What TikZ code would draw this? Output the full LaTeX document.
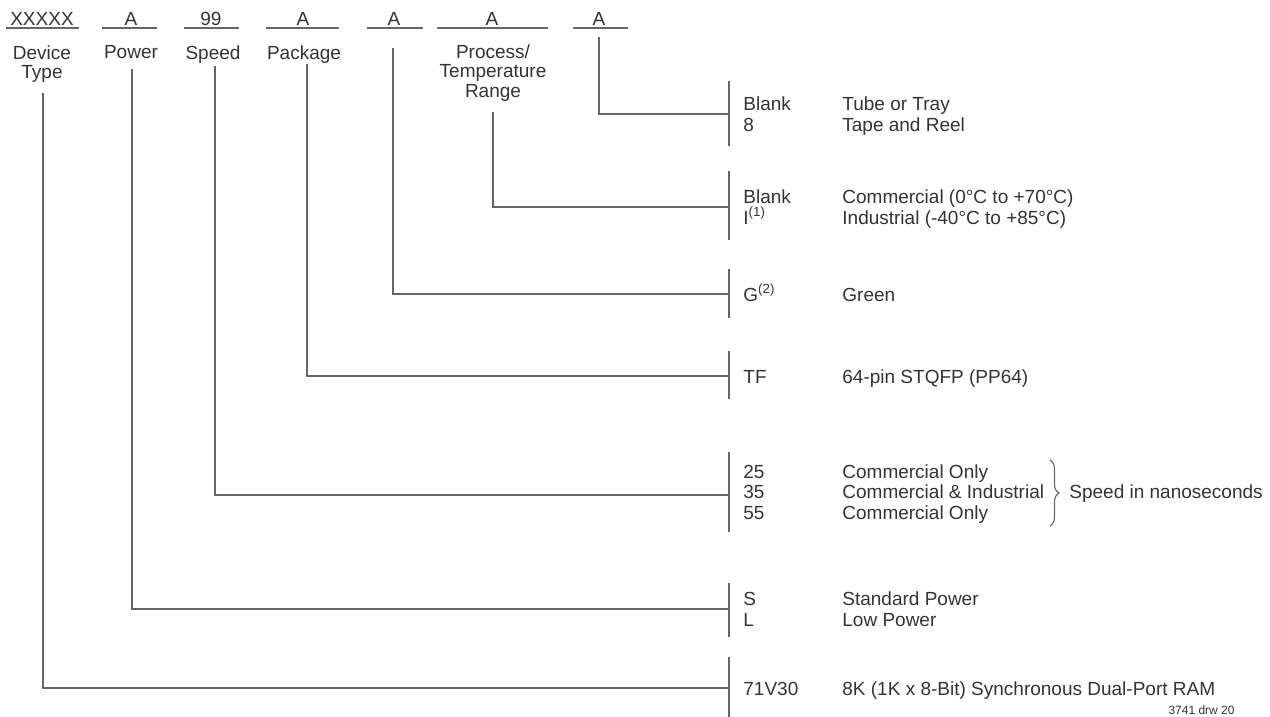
\documentclass[tikz,border=0pt]{standalone}
\usepackage{fontspec}
\setmainfont{Liberation Sans}
\usetikzlibrary{decorations.pathreplacing}
\tikzset{lnk/.style={draw=black!60, line width=0.55pt},
         field/.style={anchor=base, inner sep=0pt},
         label/.style={anchor=north, inner sep=0pt, align=center},
         item/.style={anchor=base west, inner sep=0pt}}

\begin{document}
\begin{tikzpicture}[x=0.5pt,y=-0.5pt,font=\fontsize{9.5}{9.75}\selectfont,text=black!80]
  \useasboundingbox (0,0) rectangle (1270,717);
  \foreach \n/\x/\l/\r/\s in {dev/42/6/79/XXXXX, pwr/131/102/157/A, spd/211/184/239/99,
      pkg/303/266/339/A, grn/394/367/423/A, tmp/492/437/548/A, pak/599/573/628/A} {
    \node[field] (f\n) at (\x,26) {\s};
    \draw[lnk] (\l,28) -- (\r,28);
  }
  \node[label] (ldev) at (42,45) {Device\\Type};
  \node[label] (lpwr) at (131,45) {Power};
  \node[label] (lspd) at (213,45) {Speed};
  \node[label] (lpkg) at (304,45) {Package};
  \node[label] (ltmp) at (493,44) {Process/\\Temperature\\Range};
  \foreach \n/\x/\y/\l/\t/\b in {dev/43/93/688/657/717, pwr/132/69/609/583/637,
      spd/215/66/495/452/532, pkg/307/64/376/351/399, grn/393/48/294/269/318,
      tmp/493/112/207/171/240, pak/599/37/114/81/146} {
    \coordinate (\n top) at (\x,\y);
    \coordinate (\n bar) at (729,\l);
    \draw[lnk] (\n top) |- (\n bar);
    \draw[lnk] (729,\t) -- (729,\b);
  }
  \foreach \i/\y/\c/\d in {1/110.5/Blank/Tube or Tray, 2/131.5/8/Tape and Reel,
      3/203.5/Blank/Commercial (0°C to +70°C), 4/224.5/I\textsuperscript{(1)}/Industrial (-40°C to +85°C),
      5/301/G\textsuperscript{(2)}/Green, 6/383/TF/64-pin STQFP (PP64),
      7/478/25/Commercial Only, 8/498.5/35/Commercial \& Industrial, 9/519/55/Commercial Only,
      10/605.5/S/Standard Power, 11/626.5/L/Low Power,
      12/695/71V30/8K (1K x 8-Bit) Synchronous Dual-Port RAM} {
    \node[item] (c\i) at (743,\y) {\c};
    \node[item] (d\i) at (842,\y) {\d};
  }
  \draw[lnk, decorate, decoration={brace, amplitude=4.5pt}] (1050,460) -- (1050,526);
  \node[item] (note) at (1069,498.5) {Speed in nanoseconds};
  \node[anchor=base east, inner sep=0pt, font=\fontsize{6}{7}\selectfont] (drw) at (1235,714) {3741 drw 20};
\end{tikzpicture}
\end{document}
